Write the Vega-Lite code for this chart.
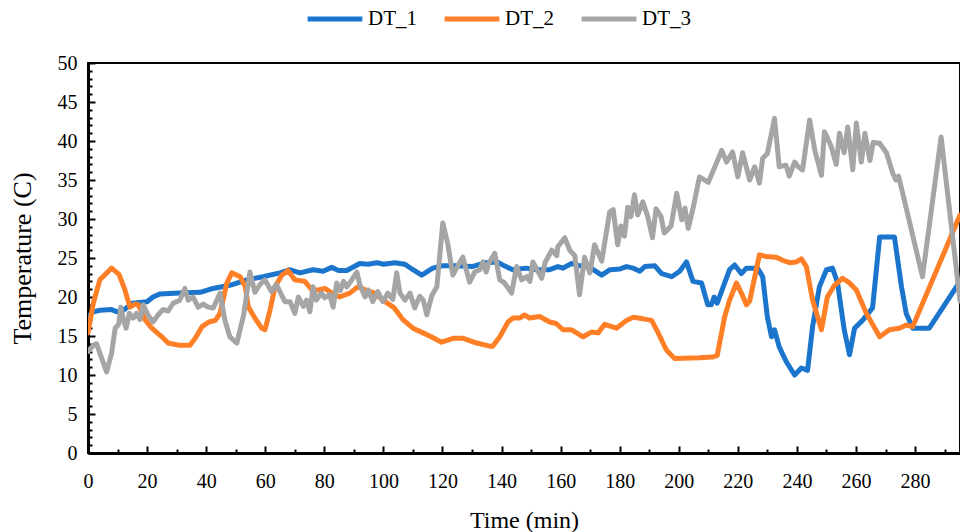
{
  "$schema": "https://vega.github.io/schema/vega-lite/v6.json",
  "width": 872,
  "height": 390,
  "autosize": {"type": "none"},
  "padding": {"left": 88, "top": 63, "right": 0, "bottom": 79},
  "background": "white",
  "config": {
    "view": {"stroke": "black", "strokeWidth": 2},
    "font": "Liberation Serif"
  },
  "datasets": {
    "d1": [
      [0,17.5],[1.8,18.1],[4,18.3],[8,18.4],[9.7,18.1],[12,18.3],[15,19.2],[20,19.4],[22,20.0],[24.4,20.4],[31,20.5],[38,20.6],[42.3,21.1],[48,21.5],[53.8,22.2],[59.2,22.6],[65,23.1],[68.3,23.5],[71.7,23.1],[76.2,23.5],[79.6,23.3],[82.5,23.8],[84.8,23.4],[87.6,23.4],[92,24.3],[94.8,24.2],[97.8,24.4],[100,24.2],[103.9,24.4],[107.3,24.2],[110,23.5],[113,22.8],[116.7,23.7],[120,24],[124.5,24],[130,23.9],[134.6,24.4],[138.4,24.5],[140.4,24.1],[143.8,23.5],[148.3,23.7],[151.7,23.5],[156.3,23.5],[159.1,23.9],[160.8,23.7],[163.7,24.3],[166.5,24.0],[169.9,23.8],[173.9,22.8],[176.7,23.5],[180.1,23.6],[182.3,23.9],[184.6,23.7],[186.8,23.3],[188.5,23.9],[191.9,24.0],[194.2,23.0],[197.6,22.6],[200.3,23.3],[202.6,24.5],[204.8,22.0],[207.7,21.8],[209.8,19.0],[211,19.0],[212,20.0],[213,19.2],[217.2,23.5],[218.9,24.1],[221.2,23.0],[222.9,23.7],[226.7,23.7],[228.4,22.6],[230,17.4],[231.4,14.9],[232.4,15.8],[234,13.6],[236.4,11.7],[239.2,10.0],[241.5,10.9],[243.6,10.6],[245.3,16.2],[247.6,21.3],[250,23.5],[252,23.7],[253.7,21.9],[256,15.8],[257.8,12.6],[259.5,16.0],[262.2,17.0],[265.6,18.6],[268,27.7],[273,27.7],[275.4,21.3],[277,17.9],[279.2,16.0],[284.8,16.0],[295.2,22.0]
    ],
    "d2": [
      [0,15.4],[1.8,19.2],[4,22.2],[8,23.7],[10.5,22.9],[12.5,20.9],[14.2,18.7],[15.9,19.1],[17,19.0],[19.3,17.1],[21.6,16.0],[25,14.9],[27.1,14.1],[31.1,13.8],[34.5,13.8],[36.3,14.7],[38.6,16.2],[40.9,16.8],[43.1,17.0],[44.7,17.9],[47,21.8],[48.7,23.1],[51.5,22.6],[53.2,21.4],[54.3,18.7],[56.5,17.3],[58.8,16.0],[59.9,15.8],[61.6,18.3],[63.3,21.3],[65.6,22.8],[67.7,23.4],[70,22.2],[73.4,22.0],[75.8,20.9],[78,20.9],[80.2,21.1],[82.5,20.5],[85.2,20.0],[88.6,20.5],[91.3,21.3],[94.1,20.9],[97,20.5],[99.8,19.6],[103.7,18.6],[106.6,17.1],[110,16.0],[113.4,15.4],[116.2,14.9],[119.7,14.2],[123.6,14.7],[127,14.7],[131.6,14.1],[136,13.7],[137,13.7],[139.4,14.9],[142.2,16.8],[143.8,17.3],[146.1,17.3],[147.8,17.7],[149.5,17.3],[152.9,17.5],[156.3,16.8],[158.5,16.6],[160.8,15.8],[163.7,15.8],[167.6,14.9],[170.4,15.5],[172.7,15.4],[174.9,16.5],[178.9,16.0],[182.3,17.0],[184.6,17.4],[188,17.2],[190.8,17.0],[192.9,15.5],[195.8,13.2],[198.6,12.1],[207,12.2],[211.4,12.3],[213,12.5],[215.5,17.4],[217.2,19.6],[219.5,21.8],[221.2,20.5],[222.9,19.0],[224,19.5],[227.3,25.4],[229.6,25.2],[233,25.1],[235.2,24.7],[237.5,24.4],[239.8,24.5],[241.5,24.9],[243.2,23.9],[245.3,19.6],[248.3,15.8],[250.3,20.0],[252.7,21.5],[255.4,22.4],[257.8,21.8],[260.1,20.9],[263.5,17.9],[268,14.9],[271.3,15.8],[274.7,16.0],[277,16.4],[279.2,16.2],[295.2,30.5]
    ],
    "d3": [
      [0,13.0],[1.8,13.8],[2.9,14.0],[4,12.8],[6.3,10.4],[8,12.8],[9.2,16.0],[10.4,16.5],[11.1,18.7],[12,17.1],[12.9,16.0],[14,17.9],[15.3,17.3],[16.4,17.9],[17.6,17.1],[18.7,19.0],[20.3,17.7],[22,16.8],[23.7,17.7],[25.4,18.4],[27.1,18.2],[28.8,19.2],[31.1,19.6],[32.8,21.1],[33.9,19.6],[35.6,20.0],[37.3,18.7],[39,19.1],[40.7,18.7],[42.4,18.6],[44.7,20.5],[46.3,17.1],[48,14.9],[50.4,14.1],[52.7,17.7],[54.8,23.2],[56.5,20.6],[58.2,21.6],[59.9,22.2],[62.1,20.7],[63.8,21.6],[66,19.9],[66.7,19.4],[68.4,19.4],[70,17.9],[71.2,20.0],[72.9,18.8],[74,19.6],[75.1,18.1],[76.2,21.3],[77.3,19.6],[79,20.5],[80.1,19.9],[81.8,20.3],[83,18.7],[84.2,21.8],[85.4,20.8],[86.5,22.0],[87.6,21.3],[89.3,22.2],[91,23.2],[92.1,21.5],[93.8,20.0],[94.9,20.9],[96.4,19.4],[98.1,20.7],[99.8,19.4],[101.5,20.5],[103.2,19.7],[104.5,23.1],[105.6,20.5],[107.3,19.6],[109,20.5],[110.6,18.6],[112.3,20.1],[113.5,19.6],[114.7,17.7],[116.4,20.2],[118.1,21.3],[120.1,29.5],[121.8,26.8],[123.5,22.8],[125.2,24.0],[126.9,25.1],[129.2,21.9],[130.9,23.2],[132.6,23.5],[133.7,24.5],[134.8,23.2],[135.5,24.2],[137.7,25.6],[139.4,22.2],[141,21.8],[143.4,20.5],[145.1,23.9],[146.8,22.2],[148.5,22.6],[149.6,22.0],[150.6,24.5],[153.6,22.4],[154.7,24.4],[157,26.0],[158.7,25.3],[159,26.4],[161.4,27.6],[163.1,26.0],[164.8,25.3],[166.4,20.3],[168.1,25.1],[169.9,23.1],[171.5,26.7],[173.9,24.6],[176.6,30.9],[177.8,31.2],[179.3,26.7],[180.4,29.1],[181.6,27.8],[182.7,31.5],[183.8,30.3],[185,33.1],[186.1,30.5],[187.8,32.2],[189.5,30.3],[191.1,27.6],[192.3,31.3],[194,30.3],[195.1,28.2],[197.4,29.1],[199.3,33.3],[201,29.9],[202.1,31.4],[203.2,28.8],[204.9,31.5],[207,35.4],[208.7,35.0],[210,34.7],[212.8,37.2],[214.5,38.8],[216.2,37.3],[218.2,38.6],[220,35.4],[221.6,38.5],[224,35.0],[225.7,36.7],[227.3,34.6],[228.4,37.8],[230,38.4],[232.4,42.9],[234,36.7],[236.3,36.9],[237.4,35.5],[239.2,37.3],[240.4,36.7],[241.9,36.3],[244.3,42.7],[246,38.9],[248.3,35.6],[249.3,41.2],[251.6,39.3],[253.3,37.0],[254.4,41.0],[256,38.5],[257.2,41.8],[258.9,36.3],[260.1,42.3],[261.8,37.3],[263,41.0],[264.7,37.5],[265.8,39.8],[268,39.7],[270.3,38.5],[272.4,35.9],[273.5,35.0],[274.4,35.5],[275.8,33.3],[282.5,22.6],[288.8,40.5],[295.2,19.5]
    ]
  },
  "layer": [
    {
      "data": {"name": "d1"},
      "transform": [{"calculate": "'DT_1'", "as": "series"}, {"calculate": "datum[0]", "as": "t"}, {"calculate": "datum[1]", "as": "v"}],
      "mark": {"type": "line", "strokeWidth": 5, "strokeJoin": "round", "strokeCap": "round", "clip": true},
      "encoding": {
        "x": {"field": "t", "type": "quantitative"},
        "y": {"field": "v", "type": "quantitative"},
        "color": {"field": "series", "type": "nominal"}
      }
    },
    {
      "data": {"name": "d2"},
      "transform": [{"calculate": "'DT_2'", "as": "series"}, {"calculate": "datum[0]", "as": "t"}, {"calculate": "datum[1]", "as": "v"}],
      "mark": {"type": "line", "strokeWidth": 5, "strokeJoin": "round", "strokeCap": "round", "clip": true},
      "encoding": {
        "x": {"field": "t", "type": "quantitative"},
        "y": {"field": "v", "type": "quantitative"},
        "color": {"field": "series", "type": "nominal"}
      }
    },
    {
      "data": {"name": "d3"},
      "transform": [{"calculate": "'DT_3'", "as": "series"}, {"calculate": "datum[0]", "as": "t"}, {"calculate": "datum[1]", "as": "v"}],
      "mark": {"type": "line", "strokeWidth": 5, "strokeJoin": "round", "strokeCap": "round", "clip": true},
      "encoding": {
        "x": {
          "field": "t", "type": "quantitative",
          "scale": {"domain": [0, 295.2], "nice": false, "zero": false},
          "axis": {
            "title": "Time (min)",
            "titleFont": "Liberation Serif", "titleFontSize": 24, "titleFontWeight": "normal", "titleColor": "black", "titlePadding": 14,
            "values": [0,10,20,30,40,50,60,70,80,90,100,110,120,130,140,150,160,170,180,190,200,210,220,230,240,250,260,270,280,290],
            "tickCount": 200,
            "format": "d",
            "labelExpr": "datum.value % 20 === 0 ? datum.label : ''",
            "labelFont": "Liberation Serif", "labelFontSize": 20, "labelColor": "black", "labelPadding": 25, "labelFlush": false, "labelOverlap": false, "labelBound": false,
            "tickColor": "black", "tickWidth": 2,
            "tickSize": {"condition": {"test": "datum.value % 20 === 0", "value": -7}, "value": -4},
            "domainColor": "black", "domainWidth": 3,
            "grid": false
          }
        },
        "y": {
          "field": "v", "type": "quantitative",
          "scale": {"domain": [0, 50], "nice": false},
          "axis": {
            "title": "Temperature (C)",
            "titleFont": "Liberation Serif", "titleFontSize": 26, "titleFontWeight": "normal", "titleColor": "black", "titlePadding": 22,
            "values": [0,1,2,3,4,5,6,7,8,9,10,11,12,13,14,15,16,17,18,19,20,21,22,23,24,25,26,27,28,29,30,31,32,33,34,35,36,37,38,39,40,41,42,43,44,45,46,47,48,49,50],
            "tickCount": 200,
            "format": "d",
            "labelExpr": "datum.value % 5 === 0 ? datum.label : ''",
            "labelFont": "Liberation Serif", "labelFontSize": 20, "labelColor": "black", "labelPadding": 18, "labelFlush": false, "labelOverlap": false, "labelBound": false,
            "tickColor": "black", "tickWidth": 2,
            "tickSize": {"condition": {"test": "datum.value % 5 === 0", "value": -7}, "value": -4},
            "domainColor": "black", "domainWidth": 3,
            "grid": false
          }
        },
        "color": {
          "field": "series", "type": "nominal",
          "scale": {"domain": ["DT_1", "DT_2", "DT_3"], "range": ["#1B75CC", "#FF7F27", "#A5A5A5"]},
          "legend": {
            "title": null,
            "orient": "none",
            "direction": "horizontal",
            "legendX": 217,
            "legendY": -74,
            "symbolType": "stroke",
            "symbolStrokeWidth": 5,
            "symbolSize": 3000,
            "labelFont": "Liberation Serif",
            "labelFontSize": 21,
            "labelColor": "black",
            "labelOffset": 3,
            "columnPadding": 17
          }
        }
      }
    }
  ]
}
